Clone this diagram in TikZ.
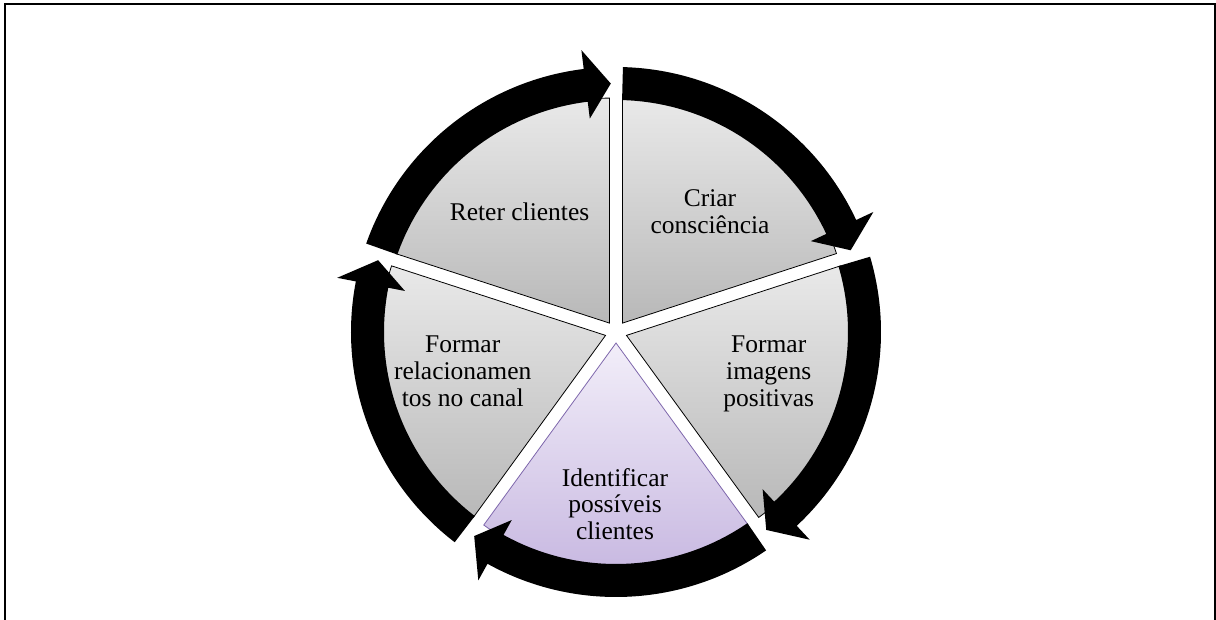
\documentclass[tikz,border=0pt]{standalone}
\usepackage{fontspec}
\setmainfont{Liberation Serif}
\usetikzlibrary{calc}
\definecolor{secTop}{HTML}{E9E9E9}
\definecolor{secBot}{HTML}{B8B8B8}
\definecolor{purTop}{HTML}{F2EEF9}
\definecolor{purBot}{HTML}{C6B6E0}
\definecolor{purpleEdge}{HTML}{7E67AC}
\begin{document}
\begin{tikzpicture}[x=1pt,y=1pt]
\useasboundingbox (0,0) rectangle (1216,-620);
\tikzset{
  frame/.style={draw=black, line width=2pt},
  graysector/.style={draw=black, line width=0.8pt, top color=secTop, bottom color=secBot},
  purplesector/.style={draw=purpleEdge, line width=0.8pt, top color=purTop, bottom color=purBot},
  ringarrow/.style={fill=black},
  steplabel/.style={font=\fontsize{25.5}{26.7}\selectfont, align=center, inner sep=0pt, text=black},
}
% outer frame (its lower edge lies below the page)
\draw[frame] (5,-640) -- (5,-4) -- (1214.5,-4) -- (1214.5,-640);

\coordinate (C) at (616,-332);

% five sectors, each pushed 11pt out along its bisector to open the gaps
\path[graysector]   ($(C)+(54:11pt)$)  -- ++(18:225pt)  arc[start angle=18,  end angle=90,  radius=225pt] -- cycle;
\path[graysector]   ($(C)+(126:11pt)$) -- ++(90:225pt)  arc[start angle=90,  end angle=162, radius=225pt] -- cycle;
\path[graysector]   ($(C)+(198:11pt)$) -- ++(162:225pt) arc[start angle=162, end angle=234, radius=225pt] -- cycle;
\path[purplesector] ($(C)+(270:11pt)$) -- ++(234:225pt) arc[start angle=234, end angle=306, radius=225pt] -- cycle;
\path[graysector]   ($(C)+(-18:11pt)$) -- ++(-54:225pt) arc[start angle=-54, end angle=18,  radius=225pt] -- cycle;

% clockwise block arrows around the cycle
\newcommand\cyclearrow[2]{%
  \pgfmathsetmacro\backang{#2+5.8}%
  \fill[ringarrow] (#1:265pt) arc[start angle=#1, end angle=\backang, radius=265pt]
    -- (\backang:284pt) -- (#2:248.5pt) -- (\backang:215pt)
    -- (\backang:232pt) arc[start angle=\backang, end angle=#1, radius=232pt] -- cycle;}
\begin{scope}[shift={(C)}]
  \cyclearrow{160.5}{91.2}
  \cyclearrow{88.5}{19.2}
  \cyclearrow{16.5}{-52.8}
  \cyclearrow{-55.5}{-124.8}
  \cyclearrow{-127.5}{-196.8}
\end{scope}

% labels
\node[steplabel] (reter)  at (519.5,-211.3) {Reter clientes};
\node[steplabel] (criar)  at (710,-211.7)   {Criar\\consciência};
\node[steplabel] (imagem) at (768.7,-374)   {Formar\\imagens\\positivas};
\node[steplabel] (relac)  at (462.7,-371.3) {Formar\\relacionamen\\tos no canal};
\node[steplabel] (ident)  at (615,-504)     {Identificar\\possíveis\\clientes};
\end{tikzpicture}
\end{document}
